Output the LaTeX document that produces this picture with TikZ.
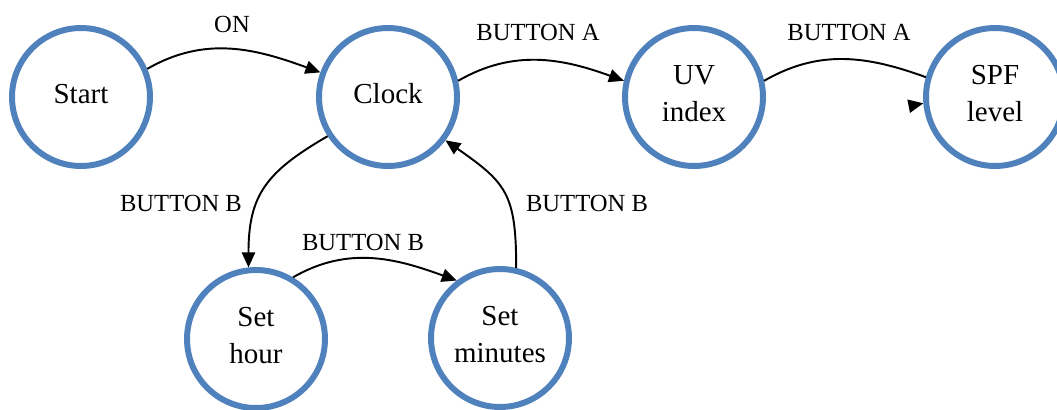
\documentclass[tikz,border=0pt]{standalone}
\usepackage{fontspec}
\setmainfont{Liberation Serif}
\usepackage{tikz}
\usetikzlibrary{arrows.meta}

\definecolor{stateblue}{HTML}{4F81BD}

\begin{document}
\begin{tikzpicture}[x=0.02cm,y=-0.02cm,
  state/.style={circle,draw=stateblue,line width=3.4pt,minimum size=2.76cm,
    inner sep=0pt,align=center,text depth=4pt,font=\fontsize{16.5}{21}\selectfont},
  trans/.style={line width=1.1pt,-{Triangle[length=8.5pt,width=7.5pt]}},
  plain/.style={line width=1.1pt},
  lbl/.style={font=\fontsize{14}{16}\selectfont,inner sep=0pt}]
  \useasboundingbox (0,0) rectangle (1057,409);
  \node[state] (start) at (81,97) {Start};
  \node[state] (clock) at (388,97) {Clock};
  \node[state] (uv) at (694,97) {UV\\index};
  \node[state] (spf) at (995,97) {SPF\\level};
  \node[state] (hour) at (256,339) {Set\\hour};
  \node[state] (minute) at (500,338) {Set\\minutes};
  \coordinate (stray) at ([xshift=-3pt,yshift=-0.6pt]spf.185);
  \draw[trans] (start.23) to[out=30,in=160] (clock.160);
  \draw[trans] (clock.13) to[out=30,in=160] (uv.167);
  \draw[plain] (uv.13) to[out=30,in=160] (spf.164);
  \draw[trans] (stray) -- (spf.185);
  \draw[trans] (clock.213) to[out=210,in=90,looseness=1.2] (hour.96);
  \draw[trans] (hour.59) to[out=30,in=160] (minute.127);
  \draw[trans] (minute.77) to[out=90,in=-35,looseness=1.3] (clock.-37);
  \node[lbl] (on) at (232,24) {ON};
  \node[lbl] (btna1) at (538,32) {BUTTON A};
  \node[lbl] (btna2) at (849,32) {BUTTON A};
  \node[lbl] (btnb1) at (181,203) {BUTTON B};
  \node[lbl] (btnb2) at (363,242) {BUTTON B};
  \node[lbl] (btnb3) at (587,203) {BUTTON B};
\end{tikzpicture}
\end{document}
